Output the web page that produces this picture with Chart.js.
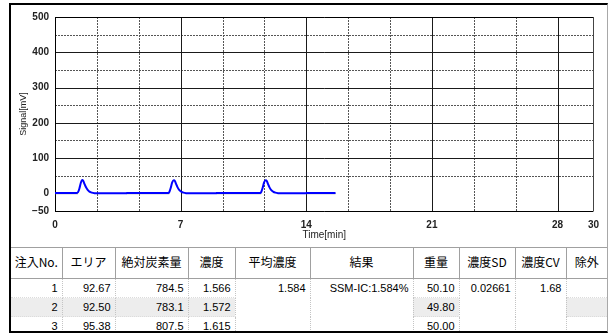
<!DOCTYPE html>
<html>
<head>
<meta charset="utf-8">
<script src="https://cdn.jsdelivr.net/npm/chart.js@4.4.1/dist/chart.umd.min.js"></script>
<style>
  html, body { margin: 0; padding: 0; background: #fff; }
  body { width: 610px; height: 333px; position: relative; overflow: hidden; }
  #frame {
    position: absolute; left: 9px; top: 3px; width: 596px; height: 326px;
    border-left: 2px solid #000; border-top: 2px solid #000;
    border-right: 1px solid #a8a8a8; border-bottom: 2px solid #000;
    overflow: hidden; background: #fff;
  }
  #plot { position: absolute; left: 0; top: 0; }
  table {
    position: absolute; left: 0; top: 242px; width: 596px;
    border-collapse: collapse; table-layout: fixed;
  }
  th {
    height: 27px; padding: 0 0 3px 0; font: 12px "Noto Sans CJK JP", sans-serif; font-weight: normal;
    line-height: 14px; color: #000; text-align: center; vertical-align: middle;
    border: 1px solid #a0a0a0; border-left: none;
  }
  td {
    padding: 0 4px 0 0; font: 11px "Liberation Sans", Arial, sans-serif; color: #000;
    text-align: right; vertical-align: top; line-height: 18px; height: 18px;
    border-right: 1px dotted #c4c4c4; border-bottom: 1px dotted #dcdcdc; white-space: nowrap;
  }
  td.shade { background: #ededed; }
  td:last-child, th:last-child { border-right: none; }
</style>
</head>
<body>
<div id="frame">
  <canvas id="plot" width="596" height="242"></canvas>
  <table id="results"></table>
</div>
<script>
// Detector trace: time [min] and signal [mV]
const traceTime = [
  0, 1.2, 1.28, 1.36, 1.44, 1.51, 1.57, 1.64, 1.72, 1.82, 1.92, 2.05, 2.2, 2.4, 3.97,
  3.99, 6.3, 6.37, 6.45, 6.53, 6.62, 6.68, 6.75, 6.83, 6.93, 7.03, 7.16, 7.3, 7.5, 8.97,
  8.99, 11.42, 11.49, 11.57, 11.65, 11.74, 11.8, 11.87, 11.95, 12.05, 12.15, 12.28, 12.43, 12.6, 13.97,
  13.99, 15.63
];
const traceSignal = [
  1, 1, 3, 14, 30, 38, 36, 27, 18, 10, 5, 2, 0.5, 0, 0,
  1, 1, 4, 16, 31, 37, 35, 26, 17, 9, 5, 2, 0.5, 0, 0,
  1, 1, 4, 16, 31, 37, 35, 26, 17, 9, 5, 2, 0.5, 0, 0,
  1, 1
];
// Integration baselines under each injection (null separates them)
const baseTime   = [0, 1.28, null, 3.99, 6.37, null, 8.99, 11.49, null, 13.99, 15.63];
const baseSignal = [-1, -1,  null, -1,   -1,   null, -1,   -1,    null, -1,    -1];

// Axis ticks
const timeTicks = [0, 7, 14, 21, 28, 30];
const signalTicks = [-50, 0, 100, 200, 300, 400, 500];
const majorTimes = [7, 14, 21, 28];
const minorTimes = [2.333, 4.667, 9.333, 11.667, 16.333, 18.667, 23.333, 25.667];
const majorSignals = [100, 200, 300, 400];
const minorSignals = [50, 150, 250, 350, 450];

// Results table
const headers = ['注入No.', 'エリア', '絶対炭素量', '濃度', '平均濃度', '結果', '重量', '濃度SD', '濃度CV', '除外'];
const injections = [1, 2, 3];
const areas = [92.67, 92.50, 95.38];
const carbon = [784.5, 783.1, 807.5];
const concentrations = [1.566, 1.572, 1.615];
const weights = [50.10, 49.80, 50.00];
const meanConcentration = 1.584;
const resultText = 'SSM-IC:1.584%';
const concentrationSD = 0.02661;
const concentrationCV = 1.68;

const toPoints = (xs, ys) => xs.map((t, i) => (t === null ? { x: NaN, y: null } : { x: t, y: ys[i] }));

const gridPlugin = {
  id: 'traceGrid',
  beforeDatasetsDraw(chart) {
    const { ctx, chartArea: a, scales: { x, y } } = chart;
    const vx = v => Math.round(x.getPixelForValue(v)) + 0.5;
    const hy = v => Math.round(y.getPixelForValue(v)) + 0.5;
    const vline = v => { ctx.beginPath(); ctx.moveTo(vx(v), a.top); ctx.lineTo(vx(v), a.bottom); ctx.stroke(); };
    const hline = v => { ctx.beginPath(); ctx.moveTo(a.left, hy(v)); ctx.lineTo(a.right, hy(v)); ctx.stroke(); };
    ctx.save();
    ctx.lineWidth = 1;
    ctx.setLineDash([2, 1]);
    ctx.strokeStyle = '#555';
    minorTimes.forEach(vline);
    minorSignals.forEach(hline);
    ctx.setLineDash([]);
    ctx.strokeStyle = '#1a1a1a';
    majorTimes.forEach(vline);
    majorSignals.forEach(hline);
    // plot frame
    ctx.strokeStyle = '#000';
    hline(500);
    hline(-50);
    vline(0);
    ctx.strokeStyle = '#444';
    vline(30);
    ctx.restore();
  }
};

const tickFont = { family: 'Liberation Sans', size: 10, weight: 'bold' };

new Chart(document.getElementById('plot'), {
  type: 'line',
  data: {
    datasets: [
      {
        data: toPoints(traceTime, traceSignal),
        borderColor: '#0000ff', borderWidth: 2, pointRadius: 0,
        cubicInterpolationMode: 'monotone', fill: false
      },
      {
        data: toPoints(baseTime, baseSignal),
        borderColor: '#8a8a8a', borderWidth: 1, pointRadius: 0, spanGaps: false, fill: false
      }
    ]
  },
  options: {
    responsive: false,
    animation: false,
    layout: { padding: { left: 0, right: 6, top: 8, bottom: 0 } },
    plugins: { legend: { display: false }, tooltip: { enabled: false } },
    scales: {
      x: {
        type: 'linear', min: 0, max: 30,
        afterBuildTicks: s => { s.ticks = timeTicks.map(v => ({ value: v })); },
        afterFit: s => { s.height = 36; },
        grid: { display: false, drawTicks: false }, border: { display: false },
        ticks: { autoSkip: false, maxRotation: 0, padding: 8, color: '#222', font: tickFont },
        title: {
          display: true, text: 'Time[min]', color: '#222',
          font: { family: 'Liberation Sans', size: 10 }, padding: { top: 0, bottom: 6 }
        }
      },
      y: {
        type: 'linear', min: -50, max: 500,
        afterBuildTicks: s => { s.ticks = signalTicks.map(v => ({ value: v })); },
        afterFit: s => { s.width = 44; },
        grid: { display: false, drawTicks: false }, border: { display: false },
        ticks: {
          autoSkip: false, padding: 6, color: '#222', font: tickFont,
          callback: v => (v < 0 ? '\u2212' + Math.abs(v) : String(v))
        },
        title: {
          display: true, text: 'Signal[mV]', color: '#222',
          font: { family: 'Liberation Sans', size: 9 }, padding: { top: 7, bottom: 0 }
        }
      }
    }
  },
  plugins: [gridPlugin]
});

// Build the results table
const widths = [51, 53, 73, 47, 75, 103, 46, 56, 51, 41];
const table = document.getElementById('results');
const colgroup = document.createElement('colgroup');
widths.forEach(w => { const c = document.createElement('col'); c.style.width = w + 'px'; colgroup.appendChild(c); });
table.appendChild(colgroup);
const head = table.insertRow();
headers.forEach(h => { const th = document.createElement('th'); th.textContent = h; head.appendChild(th); });

const cell = (row, text, shade) => {
  const td = row.insertCell();
  td.textContent = text;
  if (shade) td.className = 'shade';
  return td;
};
injections.forEach((n, i) => {
  const row = table.insertRow();
  const shade = i === 1;
  cell(row, String(n), shade);
  cell(row, areas[i].toFixed(2), shade);
  cell(row, carbon[i].toFixed(1), shade);
  cell(row, concentrations[i].toFixed(3), shade);
  if (i === 0) {
    cell(row, meanConcentration.toFixed(3)).rowSpan = 3;
    cell(row, resultText).rowSpan = 3;
  }
  cell(row, weights[i].toFixed(2), shade);
  if (i === 0) {
    cell(row, String(concentrationSD)).rowSpan = 3;
    cell(row, concentrationCV.toFixed(2)).rowSpan = 3;
  }
  cell(row, '', shade);
});
</script>
</body>
</html>
